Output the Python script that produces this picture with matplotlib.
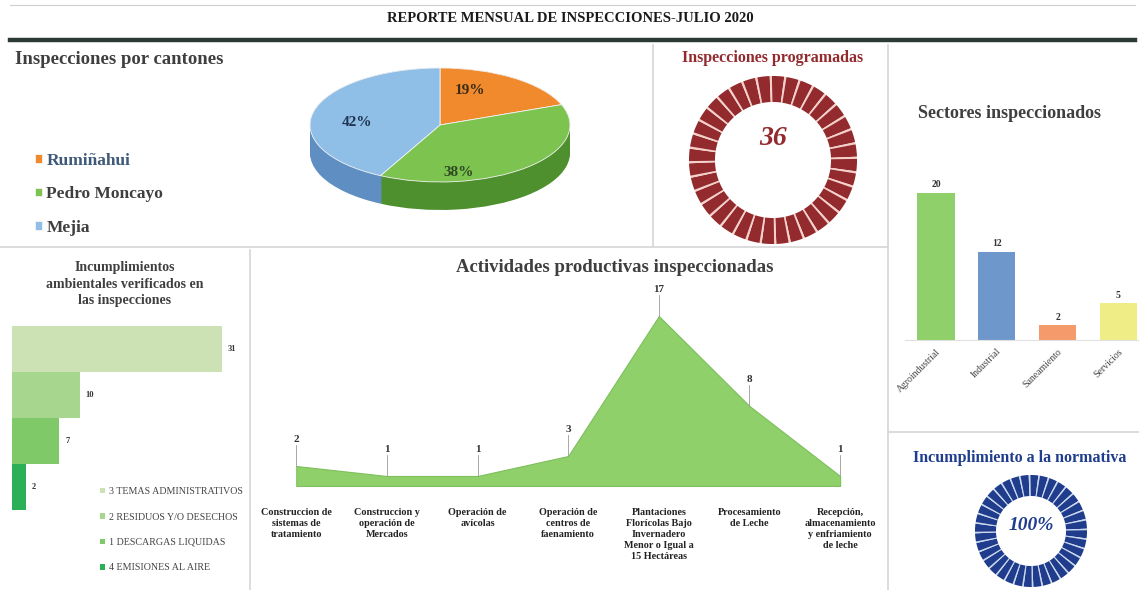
import numpy as np
import matplotlib
matplotlib.use("Agg")
import matplotlib.pyplot as plt
from matplotlib.lines import Line2D

plt.rcParams['font.family'] = ['Liberation Serif', 'DejaVu Serif']

# ---------------- data ----------------
report_title = "REPORTE MENSUAL DE INSPECCIONES-JULIO 2020"

cantones = ["Rumiñahui", "Pedro Moncayo", "Mejia"]
cantones_pct = [19, 38, 42]

programadas = 36

sectores = ["Agroindustrial", "Industrial", "Saneamiento", "Servicios"]
sectores_val = [20, 12, 2, 5]

incumpl_labels = ["3 TEMAS ADMINISTRATIVOS", "2 RESIDUOS Y/O DESECHOS",
                  "1 DESCARGAS LIQUIDAS", "4 EMISIONES AL AIRE"]
incumpl_val = [31, 10, 7, 2]

actividades = ["Construccion de\nsistemas de\ntratamiento",
               "Construccion y\noperación de\nMercados",
               "Operación de\navícolas",
               "Operación de\ncentros de\nfaenamiento",
               "Plantaciones\nFlorícolas Bajo\nInvernadero\nMenor o Igual a\n15 Hectáreas",
               "Procesamiento\nde Leche",
               "Recepción,\nalmacenamiento\ny enfriamiento\nde leche"]
actividades_val = [2, 1, 1, 3, 17, 8, 1]

normativa_pct = 100
normativa_segments = 36

# ---------------- layout helpers ----------------
W, H = 1139, 590
fig = plt.figure(figsize=(W / 100, H / 100), dpi=100)
fig.patch.set_facecolor("white")


def ax_px(x0, y0, x1, y1):
    return fig.add_axes([x0 / W, 1 - y1 / H, (x1 - x0) / W, (y1 - y0) / H])


def fx(x):
    return x / W


def fy(y):
    return 1 - y / H


def hline(y, x0, x1, lw=1.2, color="#D6D6D6"):
    fig.add_artist(Line2D([fx(x0), fx(x1)], [fy(y), fy(y)], lw=lw, color=color))


def vline(x, y0, y1, lw=1.2, color="#D6D6D6"):
    fig.add_artist(Line2D([fx(x), fx(x)], [fy(y0), fy(y1)], lw=lw, color=color))


def segmented_ring(ax, n, color, gap_color, width, gap=0.13):
    vals = []
    cols = []
    for _ in range(n):
        vals += [1 - gap, gap]
        cols += [color, gap_color]
    ax.pie(vals, colors=cols, startangle=90 + 180 * gap / n, counterclock=False,
           radius=1.0, wedgeprops=dict(width=width, linewidth=0))
    ax.set_aspect("auto")
    ax.set_xlim(-1.071, 1.071)
    ax.set_ylim(-1.071, 1.071)
    ax.axis("off")


GRAY = "#3F3F3F"

# header
hline(5, 10, 1135, lw=0.8, color="#CFCFCF")
fig.text(fx(570), fy(18), report_title, ha="center", va="center",
         fontsize=10.5, fontweight="bold", color="#1A1A1A")
hline(40, 10, 1135, lw=3.2, color="#2C3A35")

# panel separators
hline(247, 0, 888)
vline(653, 45, 247)
vline(888, 45, 590)
vline(250, 250, 590)
hline(432, 888, 1139)

# ---------------- pie (pseudo 3D) ----------------
fig.text(fx(15), fy(60), "Inspecciones por cantones", ha="left", va="center",
         fontsize=13.5, fontweight="bold", color=GRAY)

top_colors = ["#F08A2C", "#7CC350", "#8FBFE7"]
side_colors = ["#B8661E", "#4E8F2E", "#5F8EC2"]
axp = ax_px(300, 60, 580, 220)
depth = 28 / 57
for d in np.linspace(depth, 0.0, 18):
    axp.pie(cantones_pct, colors=side_colors, startangle=90, counterclock=False,
            center=(0, -d), radius=1.0, frame=True,
            wedgeprops=dict(linewidth=0))
wedges, _, autotexts = axp.pie(
    cantones_pct, colors=top_colors, startangle=90, counterclock=False,
    center=(0, 0), radius=1.0, frame=True, autopct="%.0f%%",
    wedgeprops=dict(linewidth=0.6, edgecolor="#F4F4F4"),
    textprops=dict(fontsize=11, fontweight="bold"))
label_pos = [(0.23, 0.61), (0.14, -0.84), (-0.64, 0.04)]
label_col = ["#3A2A1A", "#2E4A22", "#1F3350"]
for t, p, c in zip(autotexts, label_pos, label_col):
    t.set_position(p)
    t.set_color(c)
axp.set_aspect("auto")
axp.set_xlim(-1.077, 1.077)
axp.set_ylim(1.14 - 160 / 57, 1.14)
axp.axis("off")

leg = fig.legend(wedges, cantones, loc="upper left",
                 bbox_to_anchor=(fx(28), fy(146)), frameon=False,
                 prop=dict(family="Liberation Serif", weight="bold", size=12.5),
                 labelspacing=1.0, handlelength=0.4, handleheight=0.4,
                 handletextpad=0.25, borderaxespad=0)
for t in leg.get_texts():
    t.set_color(GRAY)
leg.get_texts()[0].set_color("#3E5A78")

# ---------------- programadas ring ----------------
RED = "#922A2E"
fig.text(fx(773), fy(58), "Inspecciones programadas", ha="center", va="center",
         fontsize=11.5, fontweight="bold", color=RED)
axr = ax_px(683, 70, 863, 250)
segmented_ring(axr, programadas, RED, "#F6CFC8", 26 / 84, gap=0.15)
axr.text(0, 0.26, str(programadas), ha="center", va="center", fontsize=20,
         fontweight="bold", fontstyle="italic", color=RED)

# ---------------- sectores bars ----------------
fig.text(fx(1010), fy(113), "Sectores inspeccionados", ha="center", va="center",
         fontsize=13, fontweight="bold", color=GRAY)
sec_colors = ["#8FD06A", "#6E98CC", "#F59A6B", "#EFEE86"]
axs = ax_px(905, 180, 1139, 340)
xs = np.arange(len(sectores))
axs.bar(xs, sectores_val, width=0.61, color=sec_colors, edgecolor="none")
axs.set_xlim(-0.51, 3.34)
axs.set_ylim(0, 160 / 7.35)
for i, v in enumerate(sectores_val):
    axs.text(i, v + 0.5, str(v), ha="center", va="bottom", fontsize=7,
             fontweight="bold", color="#333333")
axs.set_yticks([])
axs.set_xticks(xs)
axs.set_xticklabels(sectores, rotation=45, ha="right", rotation_mode="anchor",
                    fontsize=7, color="#444444")
axs.tick_params(axis="x", length=0, pad=5)
for s in ["top", "left", "right"]:
    axs.spines[s].set_visible(False)
axs.spines["bottom"].set_color("#E0E0E0")
axs.patch.set_alpha(0)

# ---------------- normativa ring ----------------
BLUE = "#1F3D8C"
fig.text(fx(1020), fy(458), "Incumplimiento a la normativa", ha="center",
         va="center", fontsize=11.5, fontweight="bold", color=BLUE)
axn = ax_px(971, 471, 1091, 591)
segmented_ring(axn, normativa_segments, BLUE, "#C9D7EF", 21 / 56, gap=0.16)
axn.text(0, 0.1, f"{normativa_pct}%", ha="center", va="center", fontsize=14,
         fontweight="bold", fontstyle="italic", color=BLUE)

# ---------------- incumplimientos horizontal bars ----------------
fig.text(fx(125), fy(284), "Incumplimientos\nambientales verificados en\nlas inspecciones",
         ha="center", va="center", fontsize=10, fontweight="bold", color=GRAY,
         linespacing=1.35)
inc_colors = ["#CDE2B4", "#A7D78E", "#7FC968", "#2BB058"]
axh = ax_px(12, 320, 250, 515)
ys = np.arange(len(incumpl_val))
bars = axh.barh(ys, incumpl_val, height=0.98, color=inc_colors, edgecolor="none")
axh.set_xlim(0, 238 / 6.77)
axh.set_ylim((515 - 349) / 46, (320 - 349) / 46)
for i, v in enumerate(incumpl_val):
    axh.text(v + 0.9, i, str(v), ha="left", va="center", fontsize=6,
             fontweight="bold", color="#333333")
axh.axis("off")
fig.legend(bars, incumpl_labels, loc="upper left",
           bbox_to_anchor=(fx(96), fy(483)), frameon=False,
           prop=dict(family="Liberation Serif", size=7.2),
           labelspacing=1.65, handlelength=0.5, handleheight=0.5,
           handletextpad=0.4, borderaxespad=0, labelcolor="#444444")

# ---------------- actividades area chart ----------------
fig.text(fx(615), fy(268), "Actividades productivas inspeccionadas", ha="center",
         va="center", fontsize=13.5, fontweight="bold", color=GRAY)
axa = ax_px(260, 280, 880, 486)
xa = np.arange(len(actividades))
axa.fill_between(xa, actividades_val, 0, color="#8FD06B", edgecolor="#7DBF5C",
                 linewidth=0.8)
axa.set_xlim(-0.4, 6.44)
axa.set_ylim(0, 20.6)
for i, v in enumerate(actividades_val):
    axa.plot([i, i], [v, v + 2.1], color="#9A9A9A", lw=0.6)
    axa.text(i, v + 2.2, str(v), ha="center", va="bottom", fontsize=8,
             fontweight="bold", color="#333333")
axa.set_yticks([])
axa.set_xticks(xa)
axa.set_xticklabels(actividades, fontsize=7.3, fontweight="bold", color="#222222",
                    linespacing=1.28, va="top")
axa.tick_params(axis="x", length=0, pad=16)
for s in ["top", "left", "right", "bottom"]:
    axa.spines[s].set_visible(False)
axa.patch.set_alpha(0)

fig.savefig("out.png", dpi=100, facecolor="white")
